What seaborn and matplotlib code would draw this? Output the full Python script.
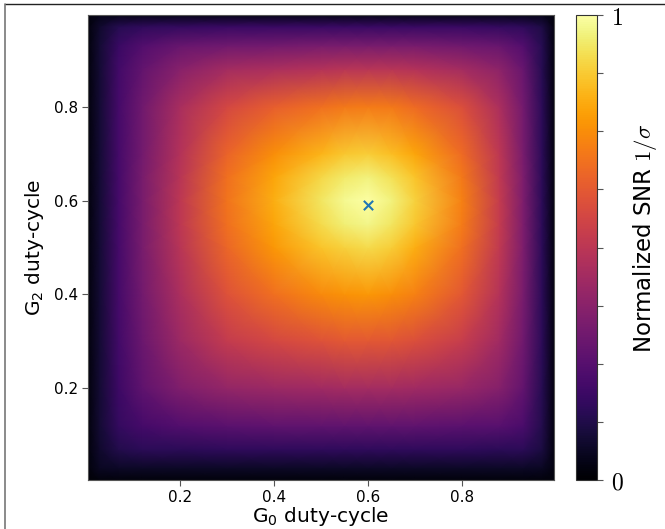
import numpy as np
import matplotlib
matplotlib.use("Agg")
import matplotlib.pyplot as plt
import seaborn as sns
from matplotlib.lines import Line2D

# ---- data ----
g0_duty = [0.005, 0.03, 0.07, 0.12, 0.2, 0.3, 0.4, 0.5, 0.55, 0.6, 0.65, 0.7, 0.8, 0.88, 0.93, 0.97, 0.995]
g2_duty = [0.005, 0.03, 0.07, 0.12, 0.2, 0.3, 0.4, 0.5, 0.55, 0.6, 0.65, 0.7, 0.8, 0.88, 0.93, 0.97, 0.995]

# normalized SNR, one row per G2 value (bottom to top), one column per G0 value
snr_rows = [
    [0.01, 0.02, 0.02, 0.02, 0.02, 0.02, 0.02, 0.02, 0.02, 0.02, 0.02, 0.02, 0.02, 0.02, 0.02, 0.02, 0.02],
    [0.02, 0.06, 0.07, 0.07, 0.07, 0.07, 0.07, 0.07, 0.07, 0.07, 0.07, 0.07, 0.07, 0.07, 0.07, 0.06, 0.03],
    [0.02, 0.08, 0.13, 0.15, 0.15, 0.16, 0.16, 0.16, 0.16, 0.16, 0.16, 0.16, 0.16, 0.15, 0.15, 0.11, 0.03],
    [0.02, 0.09, 0.17, 0.21, 0.24, 0.26, 0.27, 0.27, 0.27, 0.27, 0.27, 0.27, 0.26, 0.25, 0.22, 0.13, 0.03],
    [0.02, 0.09, 0.19, 0.27, 0.35, 0.40, 0.42, 0.43, 0.44, 0.44, 0.44, 0.43, 0.41, 0.36, 0.28, 0.14, 0.03],
    [0.02, 0.09, 0.20, 0.30, 0.42, 0.52, 0.57, 0.60, 0.62, 0.62, 0.61, 0.59, 0.53, 0.43, 0.31, 0.15, 0.03],
    [0.02, 0.09, 0.21, 0.32, 0.46, 0.60, 0.68, 0.74, 0.76, 0.77, 0.75, 0.72, 0.62, 0.48, 0.33, 0.15, 0.03],
    [0.02, 0.09, 0.21, 0.33, 0.49, 0.66, 0.77, 0.86, 0.89, 0.91, 0.88, 0.82, 0.68, 0.51, 0.34, 0.15, 0.03],
    [0.02, 0.09, 0.21, 0.33, 0.50, 0.68, 0.80, 0.91, 0.95, 0.97, 0.93, 0.87, 0.71, 0.52, 0.34, 0.15, 0.03],
    [0.02, 0.09, 0.21, 0.33, 0.50, 0.69, 0.82, 0.93, 0.98, 1.00, 0.96, 0.89, 0.72, 0.52, 0.34, 0.15, 0.03],
    [0.02, 0.09, 0.21, 0.33, 0.49, 0.68, 0.80, 0.90, 0.94, 0.96, 0.92, 0.86, 0.70, 0.51, 0.34, 0.15, 0.03],
    [0.02, 0.09, 0.21, 0.32, 0.48, 0.65, 0.75, 0.83, 0.87, 0.88, 0.85, 0.80, 0.67, 0.50, 0.33, 0.15, 0.03],
    [0.02, 0.09, 0.21, 0.31, 0.45, 0.57, 0.64, 0.68, 0.70, 0.71, 0.70, 0.67, 0.59, 0.46, 0.32, 0.15, 0.03],
    [0.02, 0.09, 0.20, 0.28, 0.37, 0.44, 0.46, 0.48, 0.49, 0.49, 0.49, 0.48, 0.44, 0.38, 0.29, 0.14, 0.03],
    [0.02, 0.09, 0.18, 0.24, 0.29, 0.31, 0.32, 0.33, 0.33, 0.33, 0.33, 0.33, 0.31, 0.29, 0.24, 0.14, 0.03],
    [0.02, 0.08, 0.14, 0.16, 0.17, 0.18, 0.18, 0.18, 0.18, 0.18, 0.18, 0.18, 0.18, 0.17, 0.16, 0.12, 0.03],
    [0.02, 0.04, 0.04, 0.04, 0.04, 0.04, 0.04, 0.04, 0.04, 0.04, 0.04, 0.04, 0.04, 0.04, 0.04, 0.04, 0.02],
]

best_g0 = [0.6]
best_g2 = [0.59]

axis_ticks = [0.2, 0.4, 0.6, 0.8]
axis_ticklabels = ["0.2", "0.4", "0.6", "0.8"]
cbar_ticks = [0, 0.125, 0.25, 0.375, 0.5, 0.625, 0.75, 0.875, 1.0]
cbar_ticklabels = ["$0$", "", "", "", "", "", "", "", "$1$"]

# ---- style ----
sns.set_style("ticks")
plt.rcParams["font.family"] = ["DejaVu Sans"]
plt.rcParams["text.color"] = "black"
plt.rcParams["xtick.labelcolor"] = "black"
plt.rcParams["ytick.labelcolor"] = "black"
plt.rcParams["axes.labelcolor"] = "black"

fig = plt.figure(figsize=(6.65, 5.29), dpi=100)
ax = fig.add_axes([0.1323, 0.0926, 0.7007, 0.879])
cax = fig.add_axes([0.866, 0.0926, 0.032, 0.879])

Z = np.array(snr_rows)
mesh = ax.pcolormesh(g0_duty, g2_duty, Z, shading="gouraud", cmap="inferno",
                     vmin=0, vmax=1)
sns.scatterplot(x=best_g0, y=best_g2, marker="x", color="#1f77b4", s=45,
                linewidth=1.5, ax=ax, zorder=5)

ax.set_xlim(0.005, 0.995)
ax.set_ylim(0.005, 0.995)
ax.set_xticks(axis_ticks)
ax.set_xticklabels(axis_ticklabels, fontsize=11)
ax.set_yticks(axis_ticks)
ax.set_yticklabels(axis_ticklabels, fontsize=11)
ax.tick_params(length=4, width=0.8, color="#555555", pad=3)
for s in ax.spines.values():
    s.set_color("#555555")
ax.set_xlabel("G$_0$ duty-cycle", fontsize=14.5, labelpad=0)
ax.set_ylabel("G$_2$ duty-cycle", fontsize=14.5, labelpad=6)

cb = fig.colorbar(mesh, cax=cax)
cb.set_ticks(cbar_ticks)
cb.set_ticklabels(cbar_ticklabels)
for t in cax.get_yticklabels():
    t.set_fontsize(17)
    t.set_math_fontfamily("cm")
cax.tick_params(length=4, width=0.8, color="#555555", pad=6)
cb.outline.set_edgecolor("#333333")
cb.outline.set_linewidth(0.8)
cb.set_label(r"Normalized SNR $1/\sigma$", fontsize=16.5)
cb.ax.yaxis.label.set_math_fontfamily("cm")
cb.ax.yaxis.set_label_coords(2.6, 0.52)

# figure frame lines (top and left) as in the reference
fig.add_artist(Line2D([0.0075, 1.0], [0.9915, 0.9915], transform=fig.transFigure,
                      color="#222222", lw=1.0))
fig.add_artist(Line2D([0.0075, 0.0075], [0.0, 0.9915], transform=fig.transFigure,
                      color="#777777", lw=1.2))

fig.savefig("out.png", dpi=100)
